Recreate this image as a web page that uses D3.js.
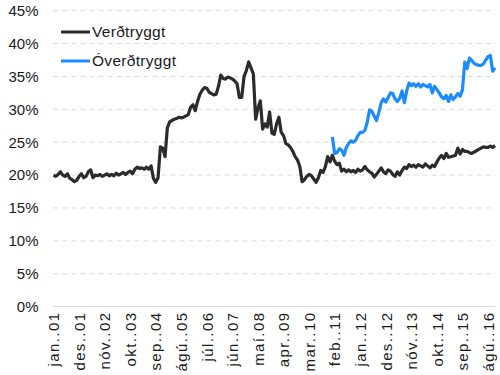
<!DOCTYPE html>
<html>
<head>
<meta charset="utf-8">
<script src="https://cdn.jsdelivr.net/npm/d3@7"></script>
<style>
  body { margin: 0; background: #fff; }
  svg { font-family: "Liberation Sans", Arial, sans-serif; }
</style>
</head>
<body>
<script>
// monthly values, jan 2001 - nov 2016 (%)
var verdtryggt = [
  20.0, 19.8, 20.1, 20.5, 20.0, 19.8, 20.2, 19.5, 19.3, 19.0,
  19.2, 19.8, 20.2, 19.6, 19.8, 20.5, 20.8, 19.6, 20.0, 19.9,
  20.1, 19.8, 20.0, 20.2, 19.9, 20.1, 19.9, 20.3, 20.0, 20.2,
  20.4, 20.1, 20.4, 20.6, 20.2, 20.9, 21.2, 21.0, 21.1, 20.9,
  21.2, 20.9, 21.4, 19.5, 18.9, 19.6, 24.3, 24.1, 22.8, 27.2,
  28.1, 28.3, 28.5, 28.6, 28.8, 28.7, 28.8, 29.0, 29.2, 30.3,
  30.7, 29.8, 31.2, 32.3, 32.9, 33.3, 33.2, 32.6, 32.4, 32.2,
  32.3, 33.5, 35.2, 34.7, 34.6, 34.9, 34.8, 34.6, 34.3, 33.9,
  31.8, 31.8, 35.0, 35.9, 37.2, 36.3, 35.4, 28.5, 30.2, 31.3,
  27.0, 27.8, 27.3, 29.6, 26.4, 26.2, 27.8, 28.8, 26.5, 26.0,
  24.8, 24.6, 24.2, 23.6, 22.8, 22.3, 21.3, 19.0, 19.3, 19.8,
  20.1, 19.9, 19.4, 18.9, 19.6, 20.7, 20.4, 21.3, 22.8, 22.0,
  23.0, 22.1, 21.6, 21.8, 20.6, 20.9, 20.5, 20.8, 20.5, 20.7,
  20.4, 20.9, 20.6, 20.8, 21.3, 20.8, 20.5, 20.3, 19.7, 20.1,
  20.6, 21.1, 20.5, 20.2, 20.8, 20.6, 20.1, 19.8, 20.5, 20.0,
  20.7, 21.2, 21.0, 21.6, 21.3, 21.5, 21.2, 21.6, 21.4, 21.2,
  21.7, 21.4, 21.1, 21.5, 21.3, 22.0, 22.6, 23.0, 22.5, 23.3,
  22.7, 22.8, 22.9, 23.0, 24.1, 23.2, 23.9, 23.6, 23.6, 23.4,
  23.3, 23.5, 23.7, 23.9, 24.1, 24.3, 24.2, 24.2, 24.4, 24.2,
  24.5
];

// starts jan 2011 (month index 120)
var overdtryggtStart = 120;
var overdtryggt = [
  25.8, 23.3, 23.4, 24.0, 23.8, 23.0, 24.2, 24.8, 25.2, 25.0,
  25.3, 26.0, 26.5, 26.5, 26.8, 28.0, 29.9, 29.7, 29.0, 28.3,
  29.5, 31.0, 31.6, 31.1, 31.8, 32.5, 32.4, 31.6, 31.2, 31.7,
  32.8, 31.0, 32.8, 34.0, 33.6, 33.9, 33.5, 33.9, 33.4, 33.8,
  33.6, 33.4, 33.8, 32.5, 33.5, 33.0, 32.5, 31.9, 31.6, 32.1,
  31.2, 32.2, 31.5, 31.9, 32.4, 32.0, 33.0, 37.2, 36.2, 37.8,
  37.4, 37.0, 36.8, 36.7, 36.7, 36.9, 37.5, 38.0, 38.2, 35.8,
  36.3
];

// tick labels every 11 months
var tickLabels = ["jan..01", "des..01", "nóv..02", "okt..03", "sep..04", "ágú..05",
  "júl..06", "jún..07", "maí.08", "apr..09", "mar..10", "feb..11", "jan..12",
  "des..12", "nóv..13", "okt..14", "sep..15", "ágú..16"];
var tickStep = 11;

var yTicks = [0, 5, 10, 15, 20, 25, 30, 35, 40, 45];

var width = 500;
var height = 375;
var margin = { top: 10.7, right: 5, bottom: 68.4, left: 53.5 };

var svg = d3.select("body")
  .append("svg")
  .attr("width", width)
  .attr("height", height);

var xScale = d3.scaleLinear()
  .domain([0, verdtryggt.length - 1])
  .range([margin.left, width - margin.right]);

var yScale = d3.scaleLinear()
  .domain([0, 45])
  .range([height - margin.bottom, margin.top]);

// gridlines
svg.append("g")
  .selectAll("line")
  .data(yTicks)
  .enter().append("line")
  .attr("x1", margin.left)
  .attr("x2", width - margin.right)
  .attr("y1", function(d) { return yScale(d); })
  .attr("y2", function(d) { return yScale(d); })
  .style("stroke", "#d9d9d9")
  .style("stroke-width", 1)
  .style("stroke-dasharray", function(d) { return d === 0 ? null : "5,4"; });

// y axis labels
var yAxis = d3.axisLeft(yScale)
  .tickValues(yTicks)
  .tickSize(0)
  .tickPadding(0)
  .tickFormat(function(d) { return d + "%"; });

svg.append("g")
  .attr("transform", "translate(" + 38.5 + ",0)")
  .call(yAxis)
  .call(function(g) { g.select(".domain").remove(); })
  .selectAll("text")
  .style("font-family", "'Liberation Sans', Arial, sans-serif")
  .style("font-size", "15px")
  .style("fill", "#1a1a1a");

// x axis labels
var xAxis = d3.axisBottom(xScale)
  .tickValues(d3.range(tickLabels.length).map(function(i) { return i * tickStep; }))
  .tickSize(0)
  .tickFormat(function(d) { return tickLabels[d / tickStep]; });

var xg = svg.append("g")
  .attr("transform", "translate(0," + (height - margin.bottom) + ")")
  .call(xAxis);
xg.select(".domain").remove();
xg.selectAll("text")
  .attr("transform", "rotate(-90)")
  .attr("x", -5)
  .attr("y", 0)
  .attr("dy", "0.35em")
  .style("text-anchor", "end")
  .style("font-family", "'Liberation Sans', Arial, sans-serif")
  .style("font-size", "15px")
  .style("letter-spacing", "1.4px")
  .style("fill", "#1a1a1a");

// lines
var line = d3.line()
  .x(function(d) { return xScale(d.i); })
  .y(function(d) { return yScale(d.v); });

var blackData = verdtryggt.map(function(v, i) { return { i: i, v: v }; });
var blueData = overdtryggt.map(function(v, i) { return { i: i + overdtryggtStart, v: v }; });

svg.append("path")
  .datum(blackData)
  .attr("d", line)
  .style("fill", "none")
  .style("stroke", "#2b2b2b")
  .style("stroke-width", 3.2)
  .style("stroke-linejoin", "round");

svg.append("path")
  .datum(blueData)
  .attr("d", line)
  .style("fill", "none")
  .style("stroke", "#1a8cff")
  .style("stroke-width", 3.2)
  .style("stroke-linejoin", "round");

// legend
var legend = [
  { name: "Verðtryggt", color: "#2b2b2b", y: 32 },
  { name: "Óverðtryggt", color: "#1a8cff", y: 61 }
];
var lg = svg.append("g");
lg.selectAll("line")
  .data(legend)
  .enter().append("line")
  .attr("x1", 61)
  .attr("x2", 90)
  .attr("y1", function(d) { return d.y; })
  .attr("y2", function(d) { return d.y; })
  .style("stroke", function(d) { return d.color; })
  .style("stroke-width", 3);
lg.selectAll("text")
  .data(legend)
  .enter().append("text")
  .attr("x", 92)
  .attr("y", function(d) { return d.y; })
  .attr("dy", "0.35em")
  .style("font-size", "15.5px")
  .style("letter-spacing", "0.3px")
  .style("fill", "#1a1a1a")
  .text(function(d) { return d.name; });
</script>
</body>
</html>
